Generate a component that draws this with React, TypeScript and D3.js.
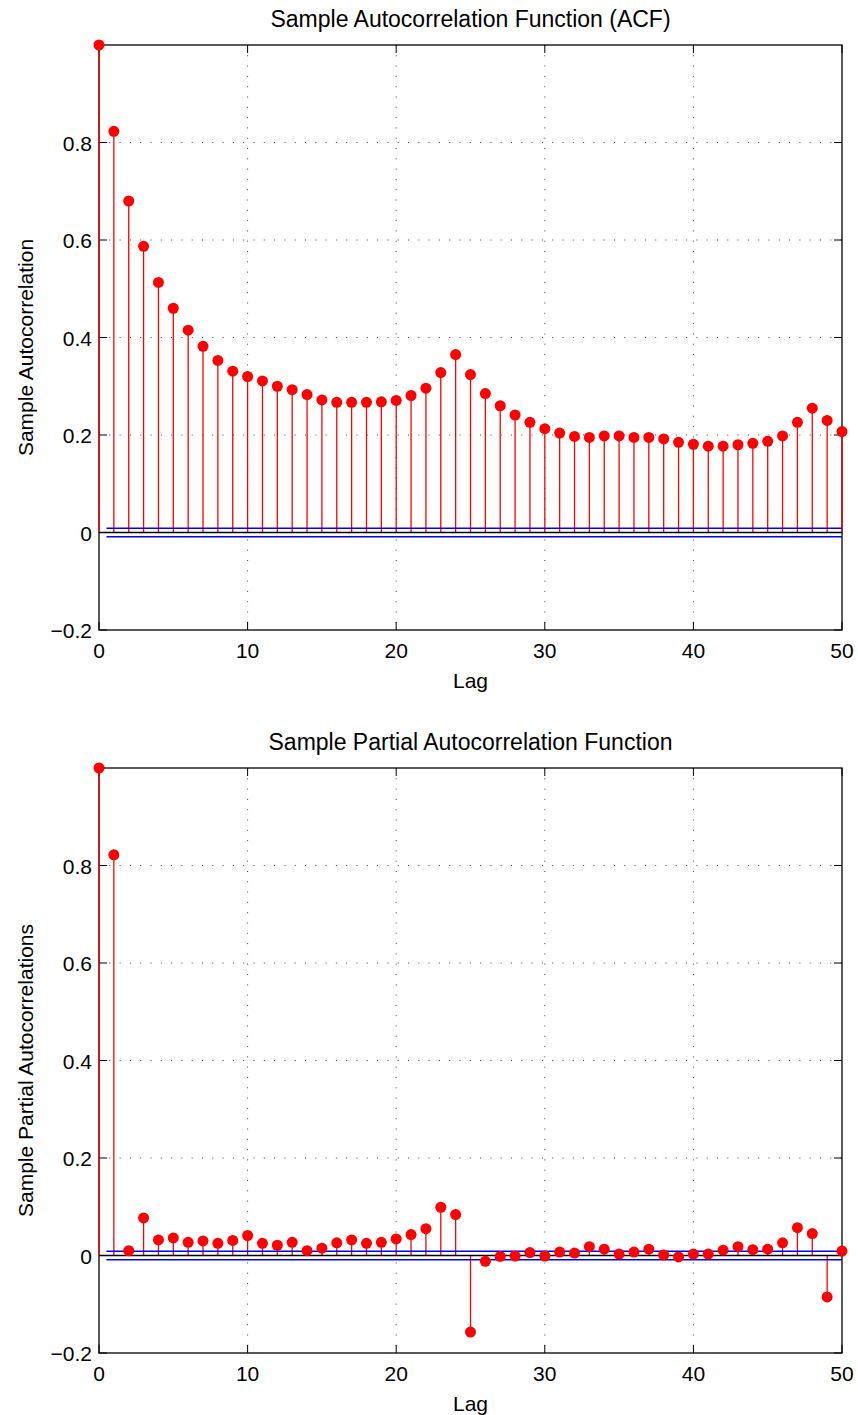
import React from "react";
import * as d3 from "d3";

const lags = d3.range(0, 51);
const acfValues = [
  1.0, 0.823, 0.68, 0.587, 0.513, 0.46, 0.415, 0.382, 0.353, 0.331,
  0.32, 0.311, 0.3, 0.293, 0.283, 0.272, 0.267, 0.267, 0.267, 0.268,
  0.271, 0.281, 0.296, 0.328, 0.365, 0.324, 0.285, 0.26, 0.241, 0.226,
  0.213, 0.204, 0.197, 0.195, 0.198, 0.198, 0.195, 0.195, 0.192, 0.185,
  0.181, 0.177, 0.177, 0.18, 0.183, 0.187, 0.198, 0.226, 0.255, 0.23,
  0.207,
];
const pacfValues = [
  1.0, 0.822, 0.01, 0.077, 0.032, 0.036, 0.027, 0.03, 0.025, 0.031,
  0.041, 0.025, 0.021, 0.027, 0.01, 0.015, 0.026, 0.032, 0.025, 0.027,
  0.034, 0.043, 0.055, 0.099, 0.084, -0.157, -0.012, -0.002, -0.001, 0.006,
  -0.001, 0.007, 0.005, 0.018, 0.013, 0.003, 0.007, 0.013, 0.001, -0.003,
  0.003, 0.003, 0.011, 0.018, 0.012, 0.013, 0.026, 0.057, 0.045, -0.085,
  0.009,
];
const bounds = [0.0088, -0.0088];
const xTicks = [0, 10, 20, 30, 40, 50];
const yTicks = [-0.2, 0, 0.2, 0.4, 0.6, 0.8];
const xGrid = [10, 20, 30, 40];
const yGrid = [0.2, 0.4, 0.6, 0.8];

const FONT = "'Liberation Sans', Arial, Helvetica, sans-serif";
const FS = 21;
const TITLE_FS = 23;

function fmt(v: number) {
  if (v === 0) return "0";
  const s = Math.abs(v).toFixed(1);
  return (v < 0 ? "\u2212" : "") + s;
}

function Panel({
  top,
  values,
  title,
  ylabel,
}: {
  top: number;
  values: number[];
  title: string;
  ylabel: string;
}) {
  const left = 99;
  const right = 842;
  const bottom = top + 585;
  const x = d3.scaleLinear().domain([0, 50]).range([left, right]);
  const y = d3.scaleLinear().domain([-0.2, 1]).range([bottom, top]);
  const tickLen = 8;
  return (
    <g>
      {/* grid */}
      {xGrid.map((t) => (
        <line
          key={"gx" + t}
          x1={x(t)}
          x2={x(t)}
          y1={top}
          y2={bottom}
          stroke="#444"
          strokeWidth={1}
          strokeDasharray="1,9.3"
        />
      ))}
      {yGrid.map((t) => (
        <line
          key={"gy" + t}
          x1={left}
          x2={right}
          y1={y(t)}
          y2={y(t)}
          stroke="#444"
          strokeWidth={1}
          strokeDasharray="1,9.3"
        />
      ))}
      {/* box */}
      <rect
        x={left}
        y={top}
        width={right - left}
        height={bottom - top}
        fill="none"
        stroke="#000"
        strokeWidth={1.3}
      />
      {/* ticks */}
      {xTicks.map((t) => (
        <g key={"xt" + t}>
          <line x1={x(t)} x2={x(t)} y1={bottom} y2={bottom - tickLen} stroke="#000" strokeWidth={1} />
          <line x1={x(t)} x2={x(t)} y1={top} y2={top + tickLen} stroke="#000" strokeWidth={1} />
          <text
            x={x(t)}
            y={bottom + 28}
            textAnchor="middle"
            fontFamily={FONT}
            fontSize={FS}
            fill="#000"
          >
            {t}
          </text>
        </g>
      ))}
      {yTicks.map((t) => (
        <g key={"yt" + t}>
          <line x1={left} x2={left + tickLen} y1={y(t)} y2={y(t)} stroke="#000" strokeWidth={1} />
          <line x1={right} x2={right - tickLen} y1={y(t)} y2={y(t)} stroke="#000" strokeWidth={1} />
          <text
            x={left - 7}
            y={y(t) + 8}
            textAnchor="end"
            fontFamily={FONT}
            fontSize={FS}
            fill="#000"
          >
            {fmt(t)}
          </text>
        </g>
      ))}
      {/* stems */}
      {lags.map((l, i) => (
        <line
          key={"s" + l}
          x1={x(l)}
          x2={x(l)}
          y1={y(0)}
          y2={y(values[i])}
          stroke="#ff0000"
          strokeWidth={1.3}
        />
      ))}
      {/* zero line */}
      <line x1={left} x2={right} y1={y(0)} y2={y(0)} stroke="#000" strokeWidth={1.5} />
      {/* bounds */}
      {bounds.map((b, i) => (
        <line
          key={"b" + i}
          x1={x(0.5)}
          x2={right}
          y1={y(b)}
          y2={y(b)}
          stroke="#0000ff"
          strokeWidth={1.4}
        />
      ))}
      {/* markers */}
      {lags.map((l, i) => (
        <circle key={"m" + l} cx={x(l)} cy={y(values[i])} r={5.5} fill="#ff0000" />
      ))}
      {/* labels */}
      <text
        x={(left + right) / 2}
        y={top - 18}
        textAnchor="middle"
        fontFamily={FONT}
        fontSize={TITLE_FS}
        fill="#000"
      >
        {title}
      </text>
      <text
        x={(left + right) / 2}
        y={bottom + 58}
        textAnchor="middle"
        fontFamily={FONT}
        fontSize={FS}
        fill="#000"
      >
        Lag
      </text>
      <text
        transform={`translate(33,${(top + bottom) / 2 + 10}) rotate(-90)`}
        textAnchor="middle"
        fontFamily={FONT}
        fontSize={FS}
        fill="#000"
      >
        {ylabel}
      </text>
    </g>
  );
}

export default function App() {
  return (
    <svg
      width={858}
      height={1415}
      style={{ position: "absolute", left: 0, top: 0, background: "#fff" }}
    >
      <rect x={0} y={0} width={858} height={1415} fill="#fff" />
      <Panel
        top={45}
        values={acfValues}
        title="Sample Autocorrelation Function (ACF)"
        ylabel="Sample Autocorrelation"
      />
      <Panel
        top={768}
        values={pacfValues}
        title="Sample Partial Autocorrelation Function"
        ylabel="Sample Partial Autocorrelations"
      />
    </svg>
  );
}
